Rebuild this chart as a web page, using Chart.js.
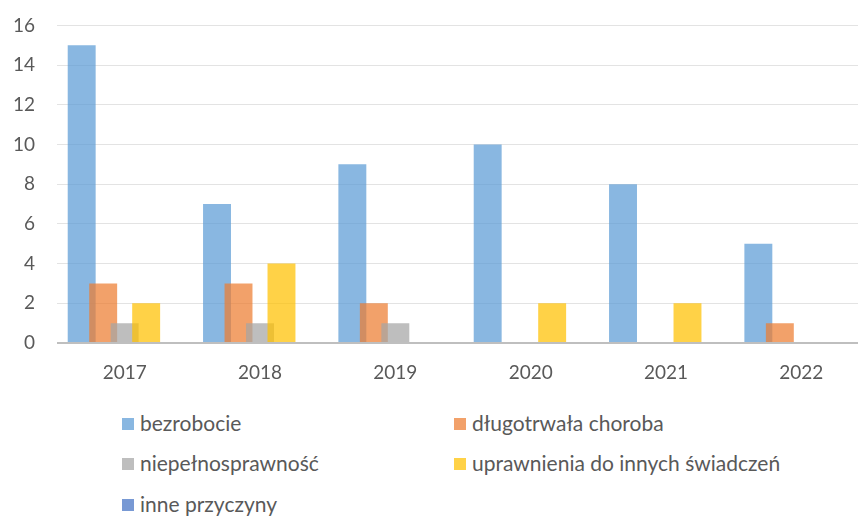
<!DOCTYPE html>
<html>
<head>
<meta charset="utf-8">
<script src="https://cdn.jsdelivr.net/npm/chart.js@4"></script>
<style>
  html,body{margin:0;padding:0;background:#fff;}
  #wrap{position:relative;width:858px;height:516px;overflow:hidden;}
  #c{position:absolute;left:0;top:-8px;}
  .lg{position:absolute;font-family:Lato,"Liberation Sans",sans-serif;font-size:21px;color:#595959;white-space:nowrap;line-height:22px;}
  .sq{position:absolute;width:12px;height:12px;}
</style>
</head>
<body>
<div id="wrap">
  <canvas id="c" width="870" height="403"></canvas>
  <div id="legend"></div>
</div>
<script>
const categories = ['2017','2018','2019','2020','2021','2022'];
const seriesNames = ['bezrobocie','długotrwała choroba','niepełnosprawność','uprawnienia do innych świadczeń','inne przyczyny'];
const bezrobocie = [15, 7, 9, 10, 8, 5];
const dlugotrwala = [3, 3, 2, 0, 0, 1];
const niepelnosprawnosc = [1, 1, 1, 0, 0, 0];
const uprawnienia = [2, 4, 0, 2, 2, 0];
const inne = [0, 0, 0, 0, 0, 0];
const yTicks = [0, 2, 4, 6, 8, 10, 12, 14, 16];

const colors = ['rgba(91,155,213,0.72)','rgba(237,125,49,0.72)','rgba(165,165,165,0.72)','rgba(255,192,0,0.72)','rgba(68,114,196,0.72)'];
const values = [bezrobocie, dlugotrwala, niepelnosprawnosc, uprawnienia, inne];

const datasets = seriesNames.map((n,i)=>({
  label:n, data:values[i], backgroundColor:colors[i], borderWidth:0,
  categoryPercentage:0.794, barPercentage:1.30
}));

const orderPlugin = {
  id:'orderPlugin',
  beforeDatasetsDraw(chart){
    const ctx = chart.ctx, a = chart.chartArea;
    const metas = chart.getSortedVisibleDatasetMetas().slice().sort((x,y)=>x.index-y.index);
    ctx.save();
    ctx.beginPath(); ctx.rect(a.left, a.top-2, a.right-a.left, a.bottom-a.top+2); ctx.clip();
    metas.forEach(m=>m.controller.draw());
    ctx.restore();
    const y0 = chart.scales.y.getPixelForValue(0);
    ctx.save();
    ctx.strokeStyle='#BFBFBF'; ctx.lineWidth=2;
    ctx.beginPath(); ctx.moveTo(a.left, y0); ctx.lineTo(a.right, y0); ctx.stroke();
    ctx.restore();
    return false;
  }
};

new Chart(document.getElementById('c'), {
  type:'bar',
  data:{labels:categories, datasets},
  plugins:[orderPlugin],
  options:{
    responsive:false, animation:false,
    layout:{padding:{top:17,right:1,left:0,bottom:0}},
    plugins:{legend:{display:false}, tooltip:{enabled:false}},
    scales:{
      x:{
        grid:{display:false, drawTicks:false},
        border:{display:false},
        ticks:{color:'#595959', font:{family:'Lato', size:19}, padding:18, maxRotation:0},
        afterFit(s){ s.height = 52; }
      },
      y:{
        min:0, max:16,
        afterBuildTicks(s){ s.ticks = yTicks.map(v=>({value:v})); },
        grid:{color:(c)=>c.tick && c.tick.value===0 ? 'rgba(0,0,0,0)' : '#E3E3E3', lineWidth:1, drawTicks:false},
        border:{display:false},
        ticks:{color:'#595959', font:{family:'Lato', size:19}, padding:22},
        afterFit(s){ s.width = 57; }
      }
    }
  }
});

const legendPos = [
  {x:122, y:424}, {x:454, y:424},
  {x:122, y:464}, {x:454, y:464},
  {x:122, y:505}
];
const lg = document.getElementById('legend');
seriesNames.forEach((n,i)=>{
  const p = legendPos[i];
  const sq = document.createElement('div');
  sq.className='sq'; sq.style.left=p.x+'px'; sq.style.top=(p.y-6)+'px'; sq.style.background=colors[i];
  lg.appendChild(sq);
  const t = document.createElement('div');
  t.className='lg'; t.style.left=(p.x+18)+'px'; t.style.top=(p.y-12)+'px'; t.textContent=n;
  lg.appendChild(t);
});
</script>
</body>
</html>
